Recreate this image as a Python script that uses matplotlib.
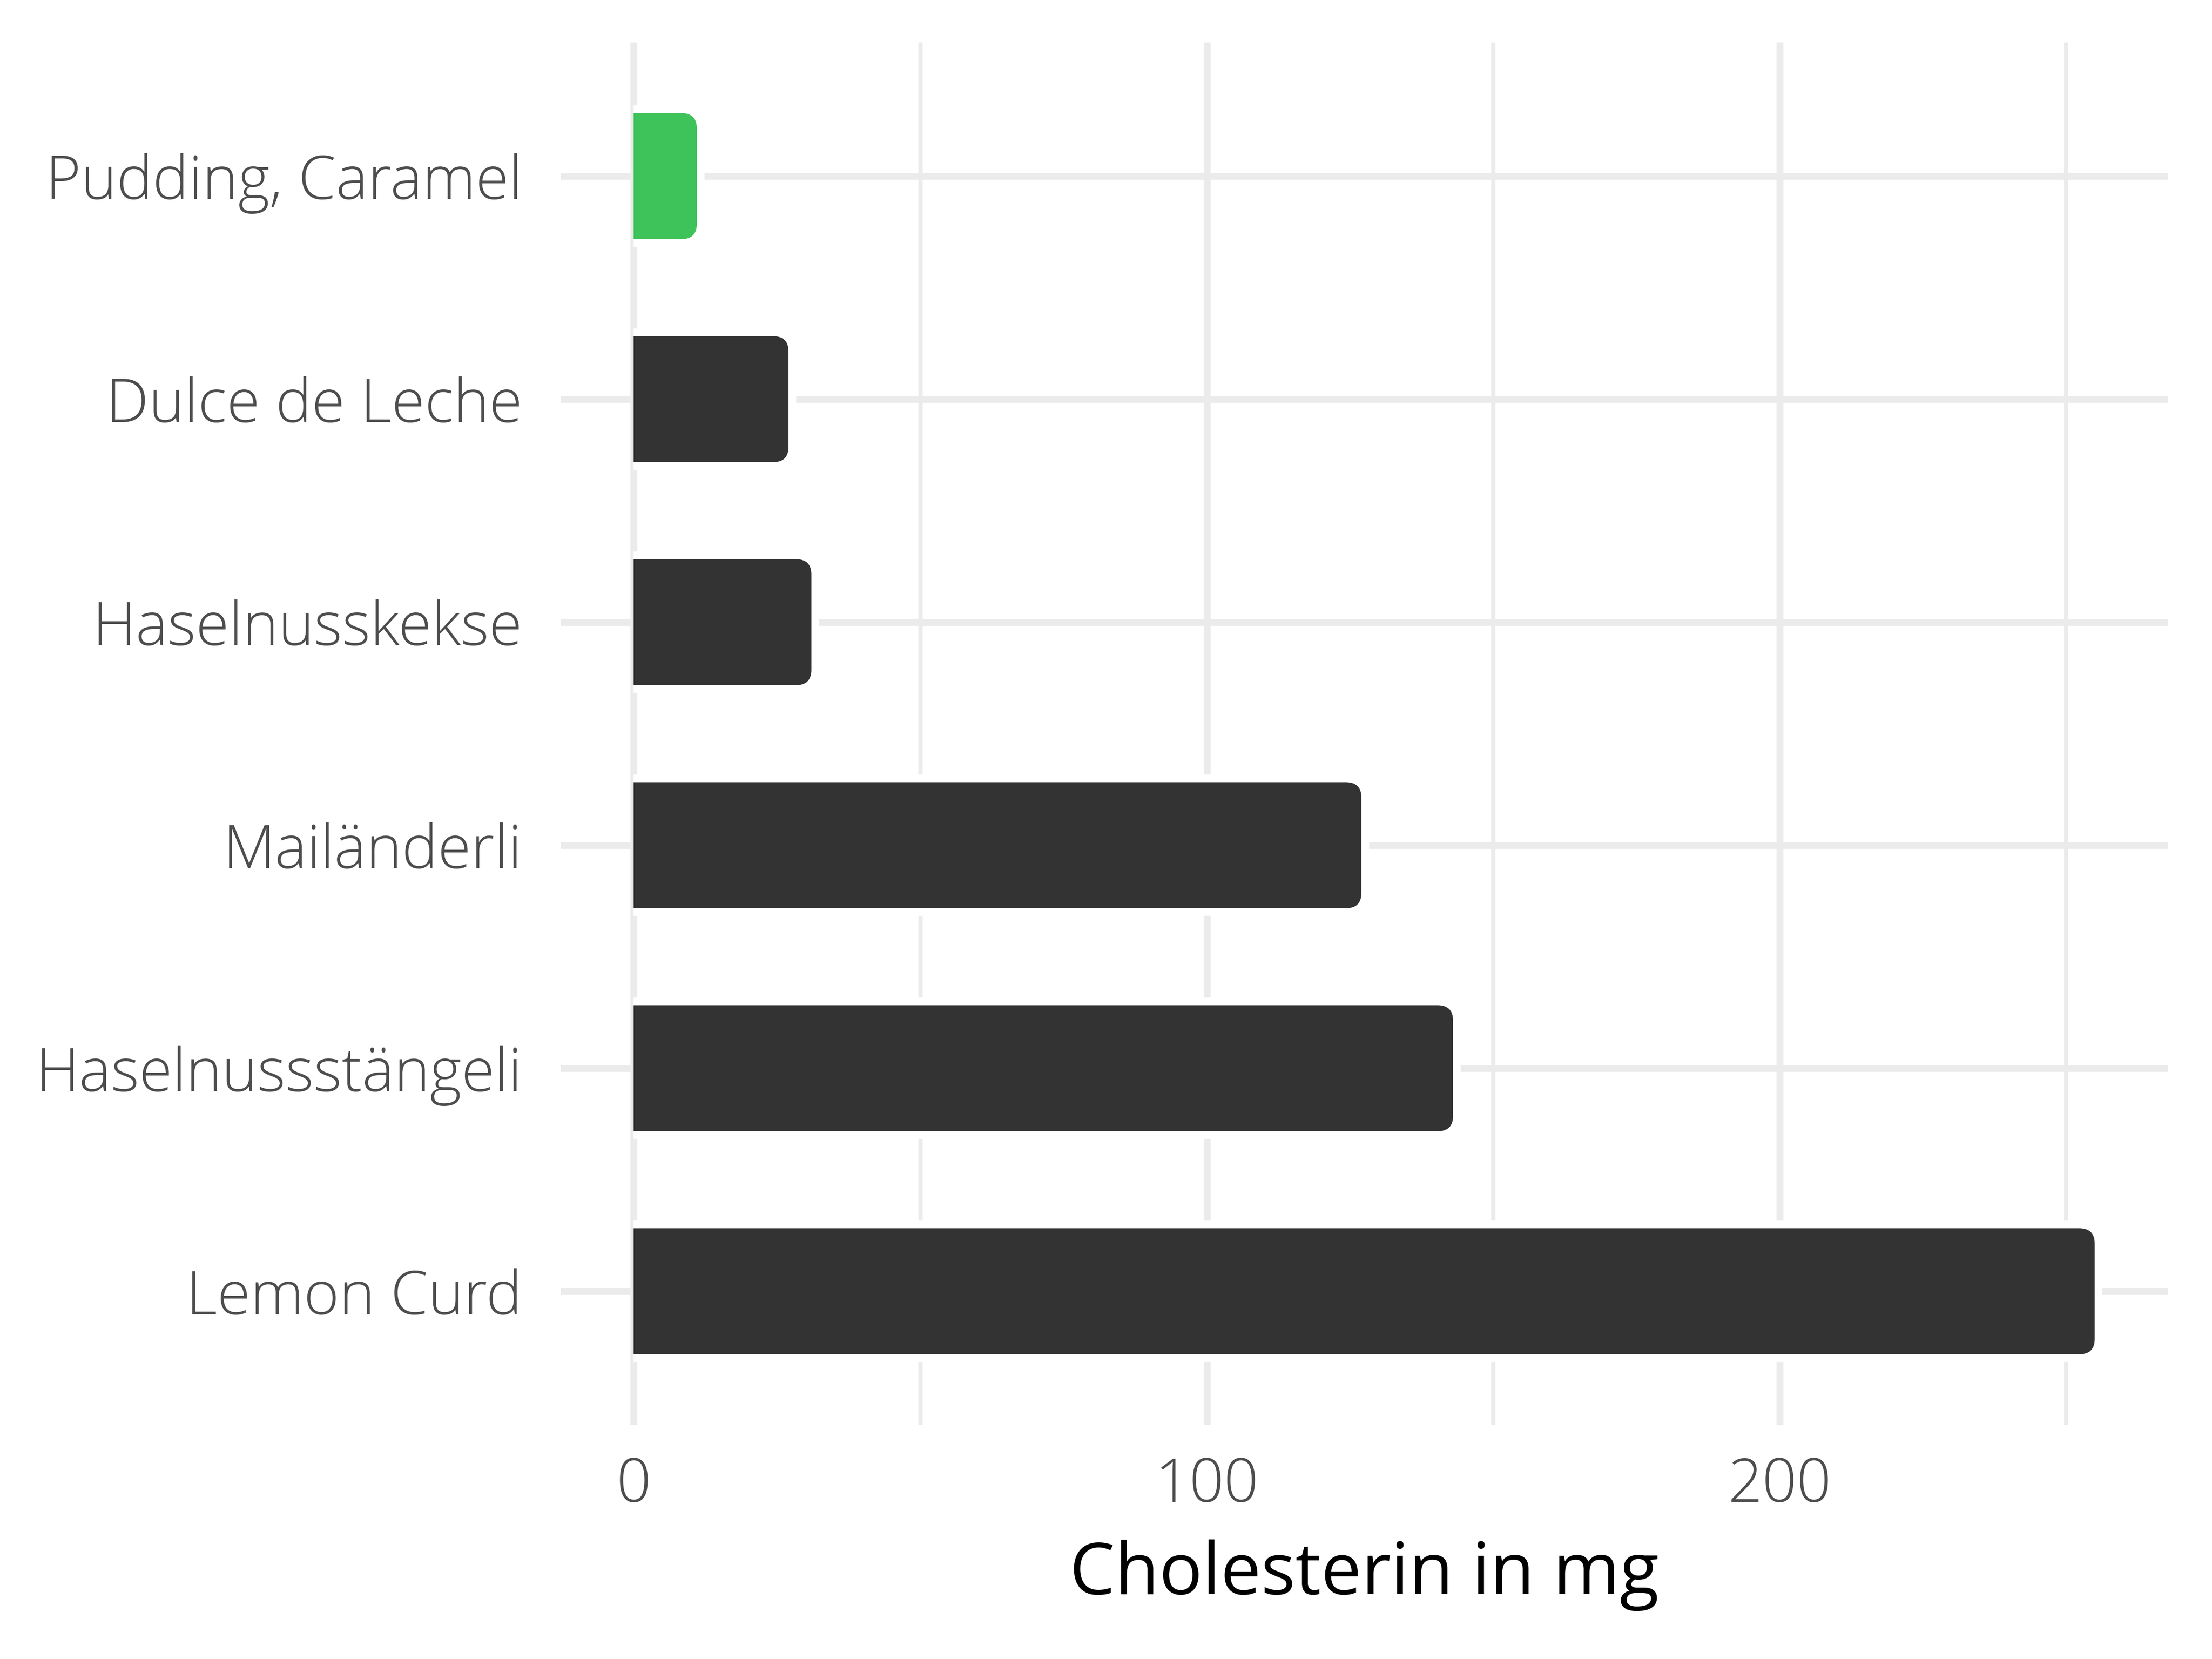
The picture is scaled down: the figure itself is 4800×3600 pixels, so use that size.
import numpy as np
import matplotlib
matplotlib.use("Agg")
import matplotlib.pyplot as plt
from matplotlib.patches import FancyBboxPatch, Rectangle

# Daten (von unten nach oben)
labels = ["Lemon Curd", "Haselnussstängeli", "Mailänderli",
          "Haselnusskekse", "Dulce de Leche", "Pudding, Caramel"]
values = [255, 143, 127, 31, 27, 11]
colors = ["#333333", "#333333", "#333333", "#333333", "#333333", "#3EC35A"]

major_ticks = [0, 100, 200]
minor_ticks = [50, 150, 250]

plt.rcParams['font.family'] = ['Open Sans', 'DejaVu Sans']
plt.rcParams['font.weight'] = 'light'

fig = plt.figure(figsize=(16, 12), dpi=300)
ax = fig.add_axes([0.2535, 0.141, 0.7265, 0.8335])

xmax = max(values)
ax.set_xlim(-0.05 * xmax, 1.05 * xmax)
ax.set_ylim(0.4, len(values) + 0.6)

ax.set_xticks(major_ticks)
ax.set_xticks(minor_ticks, minor=True)
ypos = np.arange(1, len(values) + 1)
ax.set_yticks(ypos)
ax.set_yticklabels(labels)

ax.grid(which='major', color='#ebebeb', lw=3.6, zorder=0)
ax.grid(which='minor', axis='x', color='#ebebeb', lw=2.2, zorder=0)
ax.set_axisbelow(True)
for s in ax.spines.values():
    s.set_visible(False)

ax.tick_params(which='both', length=0)
ax.tick_params(axis='y', labelsize=31.5, labelcolor='#4d4d4d', pad=20)
ax.tick_params(axis='x', labelsize=31.5, labelcolor='#4d4d4d', pad=16)

# abgerundete Balken
h = 0.565
r = 2.7
aspect = 0.068 / 2.7
for y, v, c in zip(ypos, values, colors):
    clip = Rectangle((0, y - 1), xmax * 2, 2, transform=ax.transData)
    halo = FancyBboxPatch((-r, y - h / 2), v + r, h,
                          boxstyle=f"round,pad=0,rounding_size={r}",
                          mutation_aspect=aspect, fc='white', ec='white',
                          lw=8, zorder=2)
    bar = FancyBboxPatch((-r, y - h / 2), v + r, h,
                         boxstyle=f"round,pad=0,rounding_size={r}",
                         mutation_aspect=aspect, fc=c, ec='none', zorder=3)
    ax.add_patch(halo)
    ax.add_patch(bar)
    halo.set_clip_path(clip)
    bar.set_clip_path(clip)

ax.set_xlabel("Cholesterin in mg", fontsize=37.5, color='black', labelpad=12)

fig.savefig("out.png", dpi=300)
